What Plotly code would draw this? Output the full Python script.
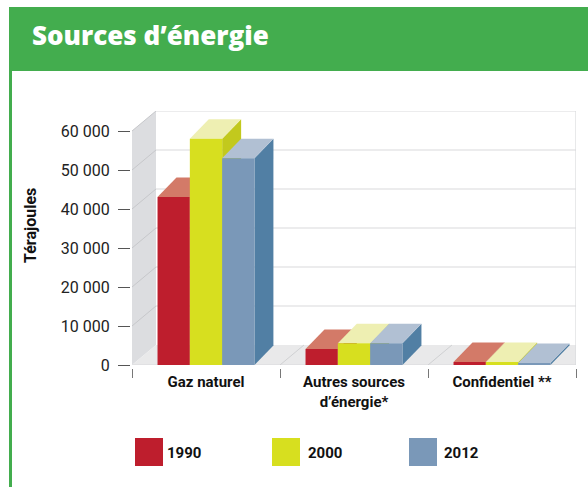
import plotly.graph_objects as go

W, H = 588, 487

categories = ["Gaz naturel", "Autres sources<br>d’énergie*", "Confidentiel **"]
years = ["1990", "2000", "2012"]
values_1990 = [43100, 4100, 800]
values_2000 = [58000, 5600, 800]
values_2012 = [53000, 5600, 500]
y_ticks = [0, 10000, 20000, 30000, 40000, 50000, 60000]
y_labels = ["0", "10 000", "20 000", "30 000", "40 000", "50 000", "60 000"]

front = ["#BE1E2D", "#D7DF1F", "#7A98B8"]
top = ["#D37A68", "#EEEFB2", "#B1C0D3"]
side = ["#A31A27", "#C2C91D", "#517FA4"]

NARROW = "Roboto"
GAP = 0.345
BAR_W = (1 - GAP) / 3
# profondeur de la perspective, en unites d'axes
BAR_DX, BAR_DY = 0.128, 5000
WALL_DX, WALL_DY = 0.162, 5130
X0, X1 = -0.5, 2.5


def px_x(p):
    return p / W


def px_y(p):
    return 1 - p / H


def poly(pts, color, ref="x", layer="below", line="rgba(0,0,0,0)"):
    path = "M " + " L ".join(f"{a},{b}" for a, b in pts) + " Z"
    return dict(type="path", path=path, fillcolor=color, layer=layer,
                line=dict(color=line, width=1), xref=ref, yref="y")


def seg(x0, y0, x1, y1, color="#D9DADC", width=1.2):
    return dict(type="line", x0=x0, y0=y0, x1=x1, y1=y1, xref="x", yref="y",
                layer="below", line=dict(color=color, width=width))


def box(x0, y0, x1, y1, color):
    return dict(type="rect", x0=px_x(x0), x1=px_x(x1), y0=px_y(y0), y1=px_y(y1),
                xref="paper", yref="paper", fillcolor=color, line_width=0)


series = [values_1990, values_2000, values_2012]
shapes = []

# decor : paroi gauche, sol, fond
shapes.append(poly([(X0, 0), (X0 + WALL_DX, WALL_DY), (X0 + WALL_DX, 60000 + WALL_DY), (X0, 60000)], "#DCDDE0"))
shapes.append(poly([(X0, 0), (X0 + WALL_DX, WALL_DY), (X1, WALL_DY), (X1, 0)], "#E9E9EA"))
for t in y_ticks[1:]:
    shapes.append(seg(X0 + WALL_DX, t + WALL_DY, X1, t + WALL_DY))
    shapes.append(seg(X0, t, X0 + WALL_DX, t + WALL_DY, "#C6C7CA", 1))
shapes.append(seg(X1, 0, X1, 60000 + WALL_DY))
shapes.append(seg(X0, 0, X1, 0))
for b in [0.5, 1.5]:
    shapes.append(seg(b, 0, b + WALL_DX, WALL_DY, "#CFD0D2", 1))

# faces superieures et laterales des barres
for c in range(len(categories)):
    for s, vals in enumerate(series):
        left = c + (s - 1.5) * BAR_W
        right = left + BAR_W
        v = vals[c]
        shapes.append(poly([(right, 0), (right + BAR_DX, BAR_DY), (right + BAR_DX, v + BAR_DY), (right, v)], side[s]))
        shapes.append(poly([(left, v), (left + BAR_DX, v + BAR_DY), (right + BAR_DX, v + BAR_DY), (right, v)], top[s]))

# bandeau vert et filet gauche
shapes.append(box(9, 7, W, 71, "#43AD4E"))
shapes.append(box(9, 71, 12, H, "#43AD4E"))

# legende
legend_x = [135, 272, 409]
legend_text_x = [165, 306, 442]
for i in range(3):
    shapes.append(box(legend_x[i], 438, legend_x[i] + 28, 466, front[i]))

annotations = [
    dict(text="Sources d’énergie", x=px_x(30), y=px_y(35), xref="paper", yref="paper",
         xanchor="left", yanchor="middle", showarrow=False,
         font=dict(family="Open Sans", size=26, color="white", weight=800)),
    dict(text="Térajoules", x=px_x(30), y=px_y(226), xref="paper", yref="paper",
         textangle=-90, xanchor="center", yanchor="middle", showarrow=False,
         font=dict(family=NARROW, size=16, color="#111111", weight=700)),
]
for i in range(3):
    annotations.append(dict(text=years[i], x=px_x(legend_text_x[i]), y=px_y(453), xref="paper", yref="paper",
                            xanchor="left", yanchor="middle", showarrow=False,
                            font=dict(family=NARROW, size=15, color="#111111", weight=700)))

fig = go.Figure()
for s, vals in enumerate(series):
    fig.add_trace(go.Bar(x=list(range(len(categories))), y=vals, name=years[s],
                         marker=dict(color=front[s], line_width=0)))

fig.update_layout(
    width=W, height=H,
    margin=dict(l=0, r=0, t=0, b=0),
    paper_bgcolor="white", plot_bgcolor="white",
    barmode="group", bargap=GAP, bargroupgap=0,
    showlegend=False,
    shapes=shapes, annotations=annotations,
    xaxis=dict(
        domain=[px_x(132), px_x(576)], range=[X0, X1],
        anchor="free", position=px_y(368), automargin=False,
        tickvals=list(range(len(categories))), ticktext=categories,
        ticks="", showgrid=False, zeroline=False, showline=False,
        tickfont=dict(family=NARROW, size=15, color="#111111", weight=700),
        ticklabelstandoff=3,
        minor=dict(tickvals=[-0.5, 0.5, 1.5, 2.5], ticks="outside", ticklen=9,
                   tickcolor="#777777", tickwidth=1, showgrid=False),
    ),
    yaxis=dict(
        domain=[px_y(365), px_y(111)], range=[0, 60000 + WALL_DY],
        anchor="free", position=px_x(130), automargin=False,
        tickvals=y_ticks, ticktext=y_labels,
        ticks="outside", ticklen=12, tickcolor="#555555", tickwidth=1,
        showgrid=False, zeroline=False, showline=False,
        ticklabelstandoff=5,
        tickfont=dict(family=NARROW, size=16, color="#222222"),
    ),
)

# la page garde sinon une marge de 8 px autour du graphique
fig.write_html(
    "out.html",
    config=dict(displayModeBar=False, responsive=False),
    default_width=f"{W}px", default_height=f"{H}px",
    post_script="document.body.style.margin='0';document.body.style.overflow='hidden';",
)
